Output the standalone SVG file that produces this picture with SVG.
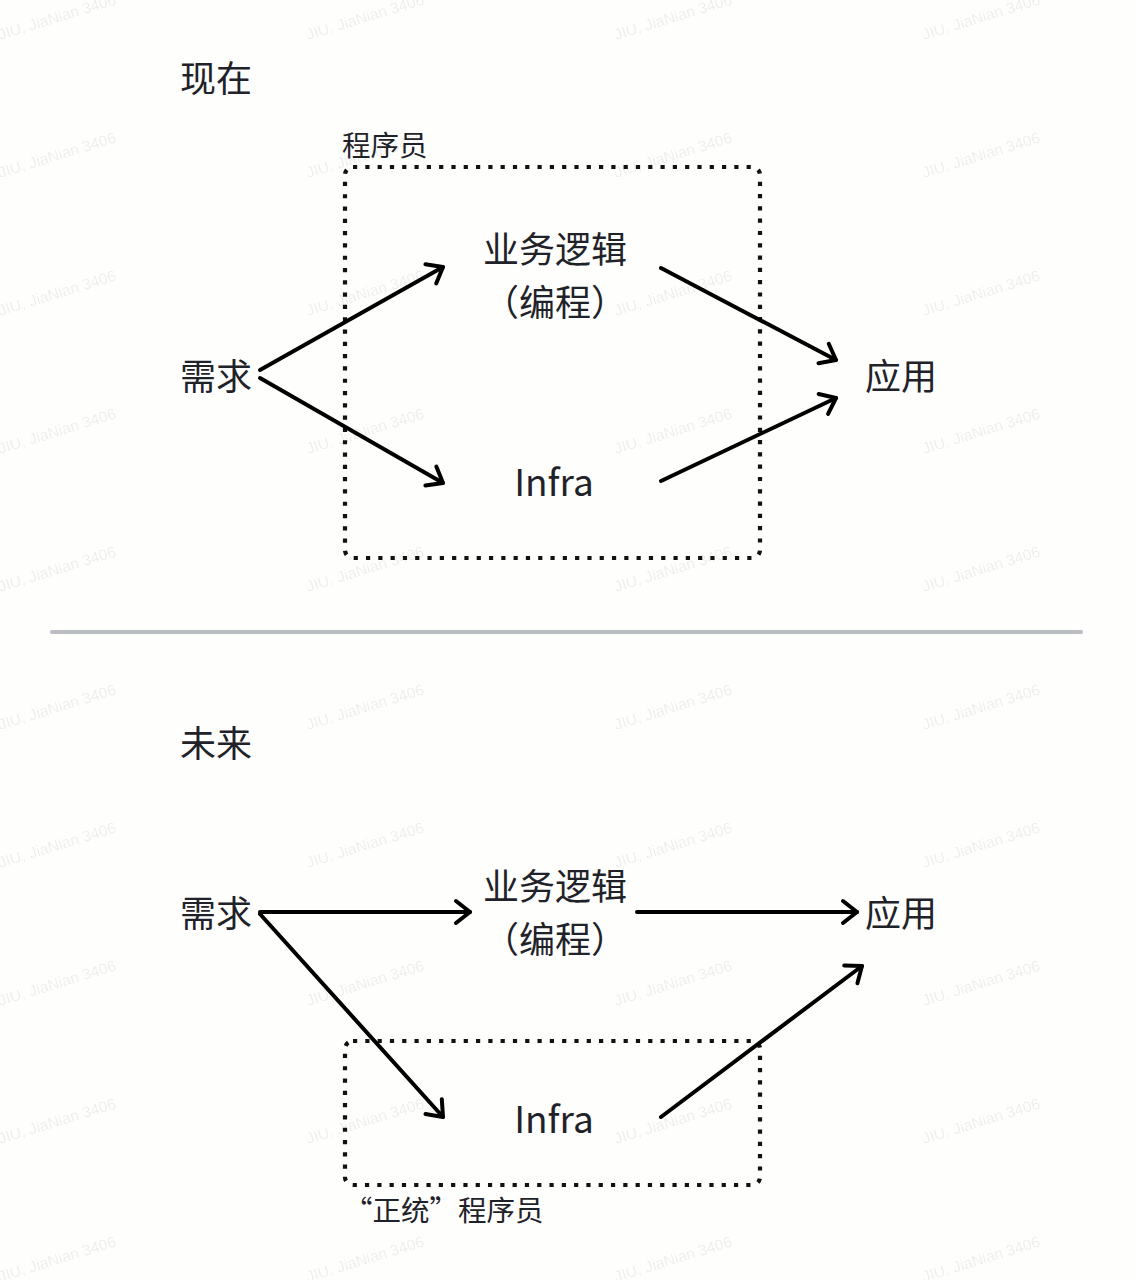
<svg xmlns="http://www.w3.org/2000/svg" width="1136" height="1280" viewBox="0 0 1136 1280">
<style>
.wm{font-family:"Liberation Sans",Arial,sans-serif;font-size:15.5px;fill:#000;fill-opacity:0.08}
.t{font-family:"Noto Sans CJK SC","Noto Sans",sans-serif;fill:#1f2329}
.big{font-size:36px}
.inf{font-size:37px}
.sm{font-size:28.5px}
.box{fill:none;stroke:#111;stroke-width:4.2;stroke-dasharray:4.2 8.1}
.c{fill:none;stroke:#000;stroke-width:4;stroke-linecap:round;marker-end:url(#ah)}
</style>
<defs>
<marker id="ah" markerUnits="userSpaceOnUse" viewBox="-20 -15 24 30" refX="0" refY="0" markerWidth="24" markerHeight="30" orient="auto" overflow="visible">
<path d="M -14 -11 L 0 0 L -14 11" fill="none" stroke="#000" stroke-width="4" stroke-linecap="round" stroke-linejoin="round"/>
</marker>
<g id="wmrow">
<text class="wm" transform="translate(0,40) rotate(-17)">JIU, JiaNian 3406</text>
<text class="wm" transform="translate(308,40) rotate(-17)">JIU, JiaNian 3406</text>
<text class="wm" transform="translate(616,40) rotate(-17)">JIU, JiaNian 3406</text>
<text class="wm" transform="translate(924,40) rotate(-17)">JIU, JiaNian 3406</text>
</g>
</defs>
<rect width="1136" height="1280" fill="#fefefd"/>
<g id="watermark">
<use href="#wmrow"/>
<use href="#wmrow" y="138"/>
<use href="#wmrow" y="276"/>
<use href="#wmrow" y="414"/>
<use href="#wmrow" y="552"/>
<use href="#wmrow" y="690"/>
<use href="#wmrow" y="828"/>
<use href="#wmrow" y="966"/>
<use href="#wmrow" y="1104"/>
<use href="#wmrow" y="1242"/>
</g>

<g id="section-now">
<text class="t big" x="180" y="92">现在</text>
<g id="group-programmer">
<rect class="box" x="345" y="167" width="415" height="391" rx="8"/>
<text class="t sm" x="342" y="156">程序员</text>
</g>
<g id="node-req1"><text class="t big" x="180" y="390">需求</text></g>
<g id="node-biz1"><text class="t big" x="555" y="263" text-anchor="middle">业务逻辑</text><text class="t big" x="555" y="316" text-anchor="middle">（编程）</text></g>
<g id="node-infra1"><text class="t inf" x="554" y="496" text-anchor="middle">Infra</text></g>
<g id="node-app1"><text class="t big" x="865" y="390">应用</text></g>
</g>

<line id="separator" x1="52" y1="632" x2="1081" y2="632" stroke="#babdc2" stroke-width="4" stroke-linecap="round"/>

<g id="section-future">
<text class="t big" x="180" y="757">未来</text>
<g id="group-orthodox">
<rect class="box" x="345" y="1041" width="415" height="144" rx="8"/>
<text class="t sm" x="344" y="1221">“正统”程序员</text>
</g>
<g id="node-req2"><text class="t big" x="180" y="927">需求</text></g>
<g id="node-biz2"><text class="t big" x="555" y="900" text-anchor="middle">业务逻辑</text><text class="t big" x="555" y="953" text-anchor="middle">（编程）</text></g>
<g id="node-infra2"><text class="t inf" x="554" y="1133" text-anchor="middle">Infra</text></g>
<g id="node-app2"><text class="t big" x="865" y="927">应用</text></g>
</g>

<g id="connectors">
<line class="c" x1="260" y1="370" x2="443" y2="267"/>
<line class="c" x1="260" y1="378" x2="443" y2="483"/>
<line class="c" x1="661" y1="268" x2="836" y2="360"/>
<line class="c" x1="661" y1="481" x2="836" y2="398"/>
<line class="c" x1="260" y1="912" x2="470" y2="912"/>
<line class="c" x1="637" y1="912" x2="857" y2="912"/>
<line class="c" x1="260" y1="914" x2="443" y2="1117"/>
<line class="c" x1="661" y1="1117" x2="862" y2="966"/>
</g>
</svg>
